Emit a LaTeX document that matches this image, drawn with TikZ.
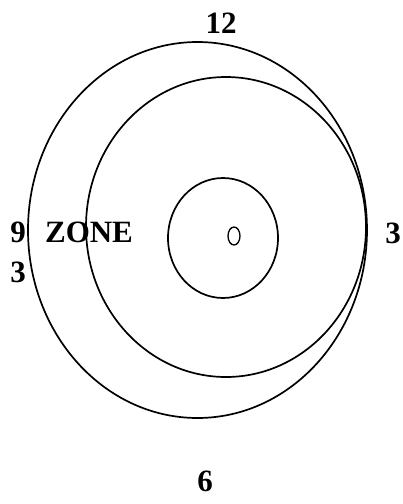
\documentclass[tikz,border=0pt]{standalone}
\usepackage{fontspec}
\setmainfont{Liberation Serif}
\begin{document}
\begin{tikzpicture}[x=1pt,y=-1pt,
  ring/.style={draw=black,line width=1.7pt},
  lbl/.style={inner sep=0pt,anchor=center,font=\fontsize{31}{31}\selectfont\bfseries}]
\useasboundingbox (0,0) rectangle (403,504);
\fill[white] (0,0) rectangle (403,504);
\draw[ring] (197.5,230) ellipse [x radius=169.5, y radius=188];
\draw[ring] (226,227) ellipse [x radius=140, y radius=150];
\draw[ring] (223,238) ellipse [x radius=55, y radius=60];
\draw[draw=black,line width=1.3pt] (234,236) ellipse [x radius=6, y radius=9];
\node[lbl] (twelve) at (221,23) {12};
\node[lbl] (nine) at (18,232) {9};
\node[lbl] (zone) at (89,232) {ZONE};
\node[lbl] (threeL) at (18,272) {3};
\node[lbl] (threeR) at (393,233) {3};
\node[lbl] (six) at (205,481) {6};
\end{tikzpicture}
\end{document}
